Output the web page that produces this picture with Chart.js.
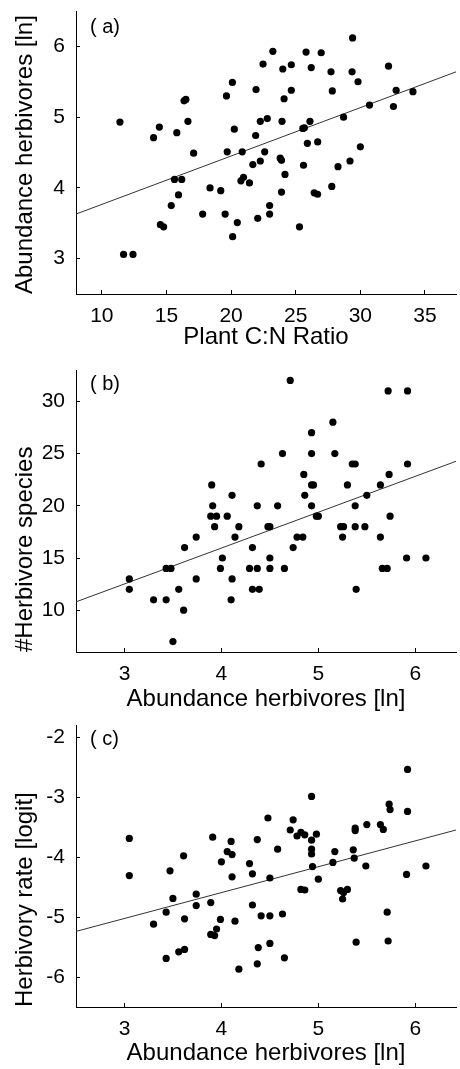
<!DOCTYPE html>
<html>
<head>
<meta charset="utf-8">
<script src="https://cdn.jsdelivr.net/npm/chart.js@4.4.1/dist/chart.umd.min.js"></script>
<style>
  html, body { margin: 0; padding: 0; background: #fff; }
  #wrap { position: relative; width: 460px; height: 1069px; }
  canvas { position: absolute; left: 0; }
</style>
</head>
<body>
<div id="wrap">
  <canvas id="panelA" width="460" height="353" style="top:0px"></canvas>
  <canvas id="panelB" width="460" height="361" style="top:353px"></canvas>
  <canvas id="panelC" width="460" height="355" style="top:714px"></canvas>
</div>
<script>
// (a) plant C:N ratio vs herbivore abundance
const cnRatio = [11.4, 14.0, 14.45, 15.8, 16.36, 16.5, 16.66, 17.1, 19.64, 20.1, 20.25, 19.7, 20.86,
  21.9, 21.93, 22.26, 22.47, 22.8, 23.23, 22.6, 21.68, 22.26, 23.8, 23.9, 24.17, 20.96, 23.94,
  24.0, 24.1, 24.66, 24.66, 25.8, 26.2, 26.97, 25.55, 25.67, 26.1, 25.9, 26.7, 25.6, 27.73,
  27.83, 28.7, 28.27, 29.2, 29.4, 29.36, 29.82, 30.0, 30.71, 32.18, 32.77, 32.56, 34.07,
  20.76, 21.42, 15.62, 16.18, 18.37, 19.2, 15.93, 15.37, 17.8, 19.54, 20.48, 20.12, 22.06,
  22.98, 22.98, 23.9, 25.29, 26.43, 26.69, 27.79, 14.53, 14.78, 11.68, 12.41];
const abundanceA = [4.93, 4.71, 4.86, 4.78, 5.23, 5.25, 4.94, 4.49, 5.30, 5.49, 4.83, 4.51, 4.51,
  4.74, 5.39, 4.94, 5.75, 4.98, 5.93, 4.51, 4.33, 4.38, 4.42, 4.39, 4.19, 4.15, 4.94,
  5.68, 5.26, 5.74, 5.38, 5.92, 5.70, 5.91, 4.84, 4.85, 4.94, 4.63, 4.65, 4.32, 5.64,
  5.37, 5.00, 4.30, 4.38, 6.12, 5.64, 5.50, 4.58, 5.17, 5.72, 5.38, 5.15, 5.36,
  4.10, 4.07, 4.12, 4.12, 4.00, 3.96, 3.90, 3.75, 3.63, 3.63, 3.51, 3.31, 3.57,
  3.75, 3.63, 3.94, 3.45, 3.93, 3.91, 4.02, 3.48, 3.45, 3.06, 3.06];
const fitAX = [8, 37.4];
const fitAY = [3.63, 5.64];
const xTicksA = [10, 15, 20, 25, 30, 35];
const yTicksA = [3, 4, 5, 6];

// (b) herbivore abundance vs number of herbivore species
const abundanceB = [4.71,
  5.72, 5.92,
  5.15,
  4.93,
  4.63, 4.93, 5.17,
  4.41, 5.35, 5.38, 5.92,
  4.85, 5.73,
  3.90, 4.93, 4.95, 5.30, 5.64,
  4.11, 4.86, 5.50,
  3.91, 4.37, 4.58, 4.93, 5.38,
  3.89, 3.95, 4.06, 4.98, 5.00, 5.74,
  3.93, 4.18, 4.48, 4.50, 5.23, 5.26, 5.38, 5.48,
  3.74, 4.14, 4.78, 4.84, 5.25, 5.64,
  3.62, 4.32, 4.74,
  4.01, 4.50, 5.91, 6.11,
  3.43, 3.48, 3.99, 4.29, 4.37, 4.50, 4.65, 5.66, 5.71,
  3.05, 3.74, 4.11,
  3.05, 3.56, 4.32, 4.39, 5.39,
  3.30, 3.43, 4.10,
  3.61,
  3.50];
const speciesB = [32,
  31, 31,
  28,
  27,
  25, 25, 25,
  24, 24, 24, 24,
  23, 23,
  22, 22, 22, 22, 22,
  21, 21, 21,
  20, 20, 20, 20, 20,
  19, 19, 19, 19, 19, 19,
  18, 18, 18, 18, 18, 18, 18, 18,
  17, 17, 17, 17, 17, 17,
  16, 16, 16,
  15, 15, 15, 15,
  14, 14, 14, 14, 14, 14, 14, 14, 14,
  13, 13, 13,
  12, 12, 12, 12, 12,
  11, 11, 11,
  10,
  7];
const fitBX = [2.5, 6.42];
const fitBY = [10.8, 24.26];
const xTicksB = [3, 4, 5, 6];
const yTicksB = [10, 15, 20, 25, 30];

// (c) herbivore abundance vs herbivory rate
const abundanceC = [5.92, 4.93, 5.73, 5.74, 5.92, 4.48, 4.74, 4.71, 4.82, 4.78, 4.86, 4.98, 4.93,
  3.05, 3.91, 4.10, 4.37, 5.38, 5.38, 5.50, 5.64, 5.67, 4.58, 4.93, 4.93, 5.17, 5.36,
  4.06, 4.11, 3.61, 4.00, 4.29, 5.15, 5.37, 5.49, 6.11, 4.94, 3.47, 3.05, 4.32, 4.11,
  4.50, 5.00, 5.91, 4.82, 4.86, 5.23, 5.26, 5.30, 5.25, 3.74, 3.50, 3.74, 3.89, 4.32,
  3.43, 4.63, 4.41, 4.50, 5.71, 3.62, 3.99, 4.14, 3.30, 3.95, 3.89, 3.93, 5.39, 5.72,
  4.50, 4.38, 3.56, 3.62, 3.43, 4.65, 4.37, 4.18];
const herbivoryC = [-2.54, -2.99, -3.12, -3.21, -3.24, -3.35, -3.38, -3.55, -3.59, -3.65, -3.63, -3.62, -3.72,
  -3.69, -3.67, -3.74, -3.71, -3.52, -3.56, -3.46, -3.46, -3.54, -3.87, -3.87, -3.95, -3.91, -3.88,
  -3.91, -3.96, -3.98, -4.08, -4.11, -4.09, -4.02, -4.15, -4.15, -4.16, -4.23, -4.31, -4.28, -4.33,
  -4.35, -4.37, -4.29, -4.54, -4.55, -4.56, -4.59, -4.54, -4.70, -4.62, -4.69, -4.81, -4.76, -4.80,
  -4.92, -4.95, -4.98, -4.98, -4.92, -5.03, -5.04, -5.07, -5.12, -5.20, -5.29, -5.31, -5.42, -5.40,
  -5.44, -5.51, -5.58, -5.54, -5.69, -5.68, -5.78, -5.87];
const fitCX = [2.5, 6.42];
const fitCY = [-5.24, -3.55];
const xTicksC = [3, 4, 5, 6];
const yTicksC = [-6, -5, -4, -3, -2];

const FONT = '"Liberation Sans", Arial, Helvetica, sans-serif';

// draws the "( a)" style tag in the top-left corner of the plot
const panelLabel = {
  id: 'panelLabel',
  afterDraw(chart, args, opts) {
    const { ctx, chartArea } = chart;
    ctx.save();
    ctx.font = '20px ' + FONT;
    ctx.fillStyle = '#000';
    ctx.textBaseline = 'middle';
    ctx.textAlign = 'left';
    ctx.fillText(opts.text, chartArea.left + opts.dx, chartArea.top + opts.dy);
    ctx.restore();
  }
};

function axisBase(min, max, ticks, title, titlePad) {
  return {
    type: 'linear',
    min: min,
    max: max,
    afterBuildTicks: s => { s.ticks = ticks.map(v => ({ value: v })); },
    border: { display: true, color: '#000', width: 1 },
    grid: { display: true, drawOnChartArea: false, drawTicks: true, tickLength: -4, color: '#000', lineWidth: 1 },
    ticks: { color: '#000', font: { family: FONT, size: 21 }, autoSkip: false, maxRotation: 0, callback: v => String(v) },
    title: { display: true, text: title, color: '#000', font: { family: FONT, size: 24 }, padding: titlePad }
  };
}

function makePanel(id, o) {
  const x = axisBase(o.xMin, o.xMax, o.xTicks, o.xTitle, { top: 0, bottom: o.xTitlePad });
  x.position = 'bottom';
  x.ticks.padding = 14;
  x.afterFit = s => { s.height = o.xAxisH; s.paddingLeft = 0; s.paddingRight = 0; };

  const y = axisBase(o.yMin, o.yMax, o.yTicks, o.yTitle, { top: 10.6, bottom: 0 });
  y.position = 'left';
  y.ticks.padding = 15;
  y.title.align = 'start';
  // fixed axis width, and no extra room for the end labels
  y.afterFit = s => { s.width = 76; s.paddingTop = 0; s.paddingBottom = 0; };

  return new Chart(document.getElementById(id), {
    type: 'scatter',
    data: {
      datasets: [
        {
          data: o.xs.map((v, i) => ({ x: v, y: o.ys[i] })),
          backgroundColor: '#000',
          borderWidth: 0,
          pointRadius: 3.6,
          order: 1
        },
        {
          data: o.fitX.map((v, i) => ({ x: v, y: o.fitY[i] })),
          showLine: true,
          borderColor: '#333',
          borderWidth: 1,
          pointRadius: 0,
          order: 2
        }
      ]
    },
    options: {
      responsive: false,
      animation: false,
      devicePixelRatio: 1,
      layout: { padding: { top: o.padTop, left: 0, right: 0, bottom: 0 } },
      plugins: {
        legend: { display: false },
        tooltip: { enabled: false },
        panelLabel: { text: o.label, dx: 14, dy: o.labelDy }
      },
      scales: { x: x, y: y }
    },
    plugins: [panelLabel]
  });
}

makePanel('panelA', {
  xs: cnRatio, ys: abundanceA, fitX: fitAX, fitY: fitAY,
  xMin: 8, xMax: 37.4, xTicks: xTicksA, xTitle: 'Plant C:N Ratio', xTitlePad: 1,
  yMin: 2.5, yMax: 6.5, yTicks: yTicksA, yTitle: 'Abundance herbivores [ln]',
  padTop: 11, xAxisH: 59, label: '( a)', labelDy: 16
});

makePanel('panelB', {
  xs: abundanceB, ys: speciesB, fitX: fitBX, fitY: fitBY,
  xMin: 2.5, xMax: 6.42, xTicks: xTicksB, xTitle: 'Abundance herbivores [ln]', xTitlePad: 0,
  yMin: 6, yMax: 33, yTicks: yTicksB, yTitle: '#Herbivore species',
  padTop: 17, xAxisH: 62, label: '( b)', labelDy: 14
});

makePanel('panelC', {
  xs: abundanceC, ys: herbivoryC, fitX: fitCX, fitY: fitCY,
  xMin: 2.5, xMax: 6.42, xTicks: xTicksC, xTitle: 'Abundance herbivores [ln]', xTitlePad: 1,
  yMin: -6.5, yMax: -1.8, yTicks: yTicksC, yTitle: 'Herbivory rate [logit]',
  padTop: 11, xAxisH: 62, label: '( c)', labelDy: 14
});
</script>
</body>
</html>
